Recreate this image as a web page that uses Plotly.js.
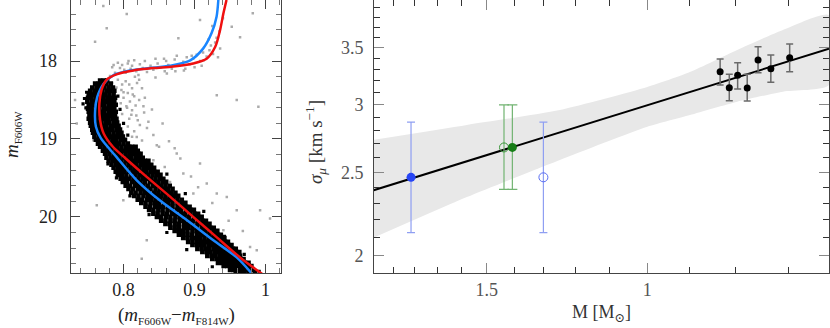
<!DOCTYPE html>
<html>
<head>
<meta charset="utf-8">
<script src="https://cdn.plot.ly/plotly-3.0.1.min.js"></script>
<style>body{margin:0;background:#fff}#plot{width:830px;height:328px}</style>
</head>
<body>
<div id="plot"></div>
<script>
// left panel: CMD isochrones (colour, magnitude)
var redCol = [0.945,0.9406,0.936,0.929,0.917,0.898,0.870,0.842,0.814,0.790,0.776,0.769,0.766,0.767,0.772,0.785,0.803,0.833,0.8655,0.898,0.931,0.964,0.995];
var redMag = [17.216,17.39,17.60,17.82,17.97,18.03,18.07,18.09,18.12,18.17,18.24,18.37,18.54,18.76,18.93,19.10,19.25,19.49,19.74,20.0,20.26,20.52,20.73];
var blueCol = [0.9335,0.931,0.924,0.912,0.894,0.865,0.837,0.809,0.786,0.772,0.763,0.760,0.761,0.768,0.790,0.8186,0.8514,0.889,0.9265,0.9594,0.980];
var blueMag = [17.216,17.43,17.64,17.84,17.99,18.06,18.09,18.12,18.18,18.29,18.46,18.63,18.84,18.99,19.23,19.53,19.79,20.04,20.30,20.52,20.72];

// main-sequence stars, one row per magnitude: [mag, colours...]
var msRows = [
  [18.25, 0.767,0.772,0.777],
  [18.29, 0.760,0.765,0.771,0.776,0.782],
  [18.34, 0.756,0.762,0.767,0.773,0.779,0.785],
  [18.38, 0.753,0.759,0.764,0.770,0.776,0.781,0.787],
  [18.43, 0.751,0.757,0.762,0.768,0.774,0.780,0.786],
  [18.47, 0.750,0.755,0.761,0.767,0.772,0.778,0.783,0.788],
  [18.52, 0.749,0.755,0.760,0.766,0.771,0.777,0.782,0.787],
  [18.56, 0.751,0.756,0.762,0.768,0.773,0.779,0.784,0.789],
  [18.61, 0.750,0.755,0.761,0.766,0.772,0.777,0.782,0.787],
  [18.65, 0.751,0.757,0.762,0.768,0.773,0.779,0.784,0.789],
  [18.70, 0.752,0.757,0.763,0.768,0.774,0.779,0.784,0.788],
  [18.74, 0.751,0.757,0.762,0.768,0.774,0.779,0.785,0.790],
  [18.79, 0.753,0.758,0.764,0.769,0.775,0.780,0.786,0.791],
  [18.83, 0.754,0.760,0.765,0.771,0.776,0.782,0.788,0.793],
  [18.88, 0.756,0.761,0.767,0.773,0.778,0.784,0.790,0.795],
  [18.92, 0.757,0.763,0.769,0.775,0.780,0.786,0.792,0.797],
  [18.97, 0.759,0.765,0.771,0.777,0.782,0.788,0.794,0.799],
  [19.01, 0.761,0.767,0.773,0.779,0.785,0.790,0.796,0.802],
  [19.06, 0.764,0.770,0.776,0.782,0.788,0.794,0.800,0.806],
  [19.10, 0.767,0.773,0.779,0.785,0.791,0.797,0.803,0.808,0.812,0.817],
  [19.15, 0.771,0.777,0.783,0.789,0.795,0.801,0.806,0.811,0.815,0.820],
  [19.19, 0.774,0.780,0.786,0.792,0.797,0.803,0.809,0.814,0.819,0.824],
  [19.24, 0.776,0.782,0.788,0.794,0.800,0.806,0.811,0.817,0.822,0.827],
  [19.28, 0.779,0.785,0.791,0.797,0.803,0.809,0.815,0.820,0.825,0.830,0.835],
  [19.33, 0.783,0.789,0.795,0.801,0.807,0.813,0.818,0.824,0.829,0.834,0.839],
  [19.37, 0.786,0.792,0.798,0.804,0.810,0.816,0.822,0.828,0.833,0.838,0.843],
  [19.42, 0.789,0.795,0.801,0.807,0.813,0.819,0.826,0.832,0.838,0.843,0.848],
  [19.46, 0.792,0.798,0.804,0.811,0.817,0.823,0.829,0.835,0.841,0.847,0.852],
  [19.51, 0.796,0.802,0.808,0.814,0.821,0.827,0.833,0.839,0.845,0.851,0.856],
  [19.55, 0.799,0.805,0.812,0.818,0.824,0.830,0.837,0.843,0.849,0.855,0.860],
  [19.60, 0.803,0.809,0.816,0.822,0.828,0.834,0.841,0.847,0.853,0.859,0.865],
  [19.64, 0.807,0.813,0.820,0.826,0.832,0.838,0.845,0.851,0.857,0.863,0.869],
  [19.69, 0.811,0.817,0.824,0.830,0.836,0.843,0.849,0.855,0.861,0.867,0.873],
  [19.73, 0.815,0.821,0.828,0.834,0.840,0.847,0.853,0.859,0.865,0.871,0.877],
  [19.78, 0.820,0.826,0.833,0.839,0.845,0.852,0.858,0.864,0.870,0.876,0.882],
  [19.82, 0.825,0.831,0.838,0.844,0.850,0.857,0.863,0.869,0.876,0.882,0.887],
  [19.87, 0.831,0.837,0.844,0.850,0.856,0.863,0.869,0.876,0.882,0.888,0.893],
  [19.91, 0.836,0.842,0.849,0.855,0.862,0.868,0.875,0.881,0.888,0.894,0.899],
  [19.96, 0.842,0.848,0.855,0.861,0.868,0.874,0.881,0.887,0.894,0.900,0.905],
  [20.00, 0.847,0.853,0.860,0.866,0.873,0.879,0.886,0.892,0.899,0.905,0.910],
  [20.05, 0.853,0.859,0.866,0.872,0.879,0.885,0.892,0.898,0.905,0.911,0.916],
  [20.09, 0.859,0.865,0.872,0.878,0.885,0.891,0.897,0.904,0.910,0.916,0.921],
  [20.14, 0.866,0.872,0.878,0.885,0.891,0.897,0.903,0.910,0.916,0.922,0.927],
  [20.18, 0.872,0.878,0.884,0.890,0.897,0.903,0.909,0.915,0.921,0.927,0.932],
  [20.23, 0.878,0.884,0.890,0.896,0.903,0.909,0.915,0.921,0.927,0.933,0.937],
  [20.27, 0.884,0.890,0.896,0.902,0.908,0.914,0.920,0.926,0.932,0.937,0.942],
  [20.32, 0.891,0.897,0.903,0.909,0.915,0.920,0.926,0.932,0.938,0.943,0.947],
  [20.36, 0.897,0.903,0.909,0.914,0.920,0.926,0.932,0.937,0.943,0.948,0.952],
  [20.41, 0.904,0.910,0.916,0.921,0.927,0.933,0.938,0.944,0.949,0.954,0.958],
  [20.45, 0.911,0.917,0.922,0.928,0.933,0.939,0.944,0.949,0.954,0.959,0.963],
  [20.50, 0.918,0.924,0.929,0.935,0.940,0.945,0.950,0.955,0.960,0.964],
  [20.54, 0.925,0.931,0.936,0.941,0.946,0.951,0.956,0.961,0.965,0.969],
  [20.59, 0.933,0.939,0.944,0.949,0.954,0.959,0.963,0.967,0.971,0.976],
  [20.63, 0.941,0.946,0.951,0.956,0.961,0.966,0.971,0.976,0.980],
  [20.68, 0.950,0.955,0.960,0.965,0.970,0.976,0.982],
  [20.71, 0.958,0.964,0.970,0.976,0.985]
];
// isolated main-sequence stars just off the ridge
var msStrayCol = [0.745,0.747,0.748,0.743,0.792,0.795,0.800,0.806,0.790,0.861,0.887,0.913,0.942,0.970,0.991,0.809,0.836,0.861,0.889,0.925,0.778,0.822,0.894];
var msStrayMag = [18.48,18.60,18.40,18.55,18.45,18.62,18.80,18.95,19.50,19.45,19.70,19.93,20.25,20.48,20.70,19.73,19.97,20.20,20.42,20.64,19.32,19.18,20.07];

// field / subgiant / binary stars (grey)
var greyCol = [0.7715,0.8045,0.7763,0.7599,0.8772,0.9077,0.9524,0.9641,0.982,0.9313,0.9594,0.9899,0.7317,0.7341,0.7575,0.8186,0.8468,0.8749,0.842,0.9077,0.8842,0.8655,0.9172,0.9313,0.9454,0.8983,0.9594,0.9923,1.0063,0.9406,0.9782,0.9876,0.8256,0.8327,0.7623,0.7997,
  0.792,0.798,0.801,0.806,0.812,0.818,0.823,0.827,0.833,0.838,0.842,0.848,0.853,0.858,0.863,0.868,0.872,0.878,0.884,0.889,0.893,0.898,0.903,0.908,0.912,0.917,0.921,0.926,0.923,0.929,0.931,0.920,
  0.784,0.788,0.781,0.776,0.784,0.792,0.798,0.803,0.797,0.806,0.812,0.800,0.809,0.815,0.804,0.812,0.818,0.808,0.823,0.815,0.829,0.835,0.826,
  0.936,0.913,0.887,0.861,0.845,0.821,0.807,0.857,0.873,0.896,
  0.786,0.795,0.803,0.810,0.816,0.822,0.790,0.808,0.819,0.826,0.800,0.813,0.822,0.796,0.805,0.817,0.830,0.828,0.798,0.811,0.820,0.806,0.833,0.842,0.812,0.850,0.864,0.880,0.858,0.895,0.905,0.925,0.948,0.968,0.872,0.840,0.855,
  0.815,0.830,0.845,0.860,0.875,0.885,0.900,0.910,0.933,0.935,0.925,0.940];
var greyMag = [17.293,17.396,17.580,17.752,17.708,17.473,17.559,17.695,17.387,18.437,18.501,18.587,18.501,18.801,19.015,18.973,19.080,19.186,19.272,19.315,19.443,19.551,19.572,19.70,19.744,19.70,19.915,19.915,20.022,20.172,20.387,20.429,20.536,20.30,19.851,19.787,
  18.02,18.05,18.11,18.03,18.06,18.13,18.04,18.09,18.14,18.06,18.11,18.03,18.08,18.13,18.05,18.10,17.98,18.06,18.01,17.95,18.04,17.97,17.92,18.00,17.89,17.94,17.86,17.91,17.80,17.76,17.70,17.72,
  18.08,18.15,18.19,18.26,18.28,18.24,18.30,18.26,18.37,18.41,18.35,18.47,18.52,18.45,18.58,18.63,18.70,18.74,18.82,18.90,18.66,18.78,19.02,
  17.84,17.99,18.10,18.16,18.21,18.18,18.00,17.97,18.13,17.93,
  18.05,18.09,18.15,18.10,18.20,18.24,18.34,18.30,18.28,18.35,18.40,18.43,18.50,18.54,18.60,18.57,18.47,18.58,18.68,18.69,18.76,18.84,18.86,18.95,18.97,19.10,19.03,19.25,19.36,19.48,19.62,19.82,20.05,20.18,19.12,18.62,18.80,
  17.99,18.00,17.97,18.00,17.93,18.12,18.08,18.06,17.95,17.62,17.55,17.45];

// right panel: sigma_mu versus mass
var starM = [0.832,0.813,0.796,0.777,0.756,0.732,0.698];
var starSig = [3.281,3.142,3.249,3.139,3.386,3.307,3.406];
var starErrUp = [0.114,0.116,0.112,0.119,0.123,0.125,0.129];
var starErrDn = [0.116,0.108,0.118,0.107,0.114,0.119,0.125];
var blueM = [1.816], blueOpenM = [1.300], blueSig = [2.468], blueUp = [0.396], blueDn = [0.342];
var greenM = [1.406], greenOpenM = [1.436], greenSig = [2.675], greenUp = [0.325], greenDn = [0.286];
var fitM = [2.0,0.632], fitSig = [2.382,3.49];
var bandM = [2.0,1.577,1.247,1.0,0.898,0.797,0.710,0.632];
var bandUp = [2.729,2.842,2.959,3.148,3.278,3.479,3.671,3.822];
var bandLo = [2.095,2.34,2.586,2.828,2.919,3.026,3.109,3.165];

var msCol = [], msMag = [];
msRows.forEach(function (r) {
  for (var i = 1; i < r.length; i++) { msCol.push(r[i]); msMag.push(r[0]); }
});

var serif = 'Liberation Serif, DejaVu Serif, serif';

var data = [
  {x: greyCol, y: greyMag, xaxis: 'x', yaxis: 'y', mode: 'markers', hoverinfo: 'skip',
   marker: {symbol: 'square', size: 2.5, color: '#ababab'}},
  {x: msCol, y: msMag, xaxis: 'x', yaxis: 'y', mode: 'markers', hoverinfo: 'skip',
   marker: {symbol: 'square', size: 4.6, color: '#000'}},
  {x: msStrayCol, y: msStrayMag, xaxis: 'x', yaxis: 'y', mode: 'markers', hoverinfo: 'skip',
   marker: {symbol: 'square', size: 3.2, color: '#000'}},
  {x: blueCol, y: blueMag, xaxis: 'x', yaxis: 'y', mode: 'lines',
   line: {color: '#1a86ff', width: 2.5, shape: 'spline', smoothing: 0.8}},
  {x: redCol, y: redMag, xaxis: 'x', yaxis: 'y', mode: 'lines',
   line: {color: '#f01010', width: 2.5, shape: 'spline', smoothing: 0.8}},

  {x: bandM.concat(bandM.slice().reverse()), y: bandUp.concat(bandLo.slice().reverse()),
   xaxis: 'x2', yaxis: 'y2', mode: 'lines', fill: 'toself', fillcolor: '#e8e8e8',
   line: {width: 0, shape: 'spline', smoothing: 0.6}, hoverinfo: 'skip'},
  {x: fitM, y: fitSig, xaxis: 'x2', yaxis: 'y2', mode: 'lines', line: {color: '#000', width: 2}},
  {x: starM, y: starSig, xaxis: 'x2', yaxis: 'y2', mode: 'markers',
   marker: {color: '#000', size: 7},
   error_y: {type: 'data', symmetric: false, array: starErrUp, arrayminus: starErrDn, color: '#6a6a6a', thickness: 1.5, width: 3.5}},
  {x: blueOpenM, y: blueSig, xaxis: 'x2', yaxis: 'y2', mode: 'markers',
   marker: {color: 'rgba(0,0,0,0)', size: 9, line: {color: '#5a6ef2', width: 1}},
   error_y: {type: 'data', symmetric: false, array: blueUp, arrayminus: blueDn, color: '#8f9ff2', thickness: 1.2, width: 4}},
  {x: blueM, y: blueSig, xaxis: 'x2', yaxis: 'y2', mode: 'markers',
   marker: {color: '#2745f5', size: 9},
   error_y: {type: 'data', symmetric: false, array: blueUp, arrayminus: blueDn, color: '#8f9ff2', thickness: 1.2, width: 4}},
  {x: greenOpenM, y: greenSig, xaxis: 'x2', yaxis: 'y2', mode: 'markers',
   marker: {color: 'rgba(0,0,0,0)', size: 9, line: {color: '#3b963b', width: 1}},
   error_y: {type: 'data', symmetric: false, array: greenUp, arrayminus: greenDn, color: '#72b472', thickness: 1.2, width: 5}},
  {x: greenM, y: greenSig, xaxis: 'x2', yaxis: 'y2', mode: 'markers',
   marker: {color: '#167d16', size: 9},
   error_y: {type: 'data', symmetric: false, array: greenUp, arrayminus: greenDn, color: '#72b472', thickness: 1.2, width: 5}}
];

function frame(extra) {
  var a = {showgrid: false, zeroline: false, showline: true, linecolor: '#444', linewidth: 1,
    mirror: 'allticks', ticks: 'inside', tickcolor: '#444', tickwidth: 1,
    tickfont: {family: serif, size: 18, color: '#222'}};
  for (var k in extra) a[k] = extra[k];
  return a;
}

var layout = {
  width: 830, height: 328, showlegend: false,
  margin: {l: 0, r: 0, t: 0, b: 0},
  paper_bgcolor: '#fff', plot_bgcolor: '#fff',
  xaxis: frame({domain: [0.0852, 0.3386], range: [0.7256, 1.0218], anchor: 'y',
    tickvals: [0.8, 0.9, 1], ticktext: ['0.8', '0.9', '1'], ticklen: 9, ticklabelstandoff: 0,
    minor: {dtick: 0.02, tick0: 0.8, ticks: 'inside', ticklen: 5, tickcolor: '#777'}}),
  yaxis: frame({domain: [0.1677, 1], range: [20.72, 17.216], anchor: 'x',
    tickvals: [18, 19, 20], ticklen: 9, ticklabelstandoff: 9,
    minor: {dtick: 0.2, tick0: 18, ticks: 'inside', ticklen: 5, tickcolor: '#777'}}),
  xaxis2: frame({type: 'log', domain: [0.4506, 0.9988], range: [Math.log10(1.994), Math.log10(0.632)], anchor: 'y2',
    tickvals: [1.5, 1], ticktext: ['1.5', '1'], ticklen: 10, tickcolor: '#888', ticklabelstandoff: 0,
    tickfont: {family: serif, size: 18, color: '#555'},
    minor: {tickmode: 'array', tickvals: [1.9,1.8,1.7,1.6,1.4,1.3,1.2,1.1,0.9,0.8,0.7], ticks: 'inside', ticklen: 6, tickcolor: '#333'}}),
  yaxis2: frame({type: 'log', domain: [0.1677, 1], range: [Math.log10(1.907), Math.log10(3.98)], anchor: 'x2',
    tickvals: [2, 2.5, 3, 3.5], ticktext: ['2', '2.5', '3', '3.5'], ticklen: 10, tickcolor: '#888', ticklabelstandoff: 6,
    tickfont: {family: serif, size: 18, color: '#555'},
    minor: {tickmode: 'array', tickvals: [2.1,2.2,2.3,2.4,2.6,2.7,2.8,2.9,3.1,3.2,3.3,3.4,3.6,3.7,3.8,3.9], ticks: 'inside', ticklen: 6, tickcolor: '#333'}}),
  annotations: [
    {xref: 'paper', yref: 'paper', x: 176 / 830, y: 1 - 315 / 328, xanchor: 'center', yanchor: 'middle', showarrow: false,
     font: {family: serif, size: 19, color: '#222'},
     text: '(<i>m</i><sub><span style="font-size:11px">F606W</span></sub>\u2212<i>m</i><sub><span style="font-size:11px">F814W</span></sub>)'},
    {xref: 'paper', yref: 'paper', x: 12 / 830, y: 1 - 135 / 328, xanchor: 'center', yanchor: 'middle', showarrow: false, textangle: -90,
     font: {family: serif, size: 19, color: '#222'},
     text: '<i>m</i><sub><span style="font-size:11px">F606W</span></sub>'},
    {xref: 'paper', yref: 'paper', x: 316 / 830, y: 1 - 142 / 328, xanchor: 'center', yanchor: 'middle', showarrow: false, textangle: -90,
     font: {family: serif, size: 19, color: '#333'},
     text: '<i>\u03c3</i><sub><i>\u03bc</i></sub> [km s<sup>\u22121</sup>]'},
    {xref: 'paper', yref: 'paper', x: 601.5 / 830, y: 1 - 313 / 328, xanchor: 'center', yanchor: 'middle', showarrow: false,
     font: {family: serif, size: 18, color: '#333'},
     text: 'M [M<sub>\u2299</sub>]'}
  ]
};

Plotly.newPlot('plot', data, layout, {staticPlot: true});
</script>
</body>
</html>
